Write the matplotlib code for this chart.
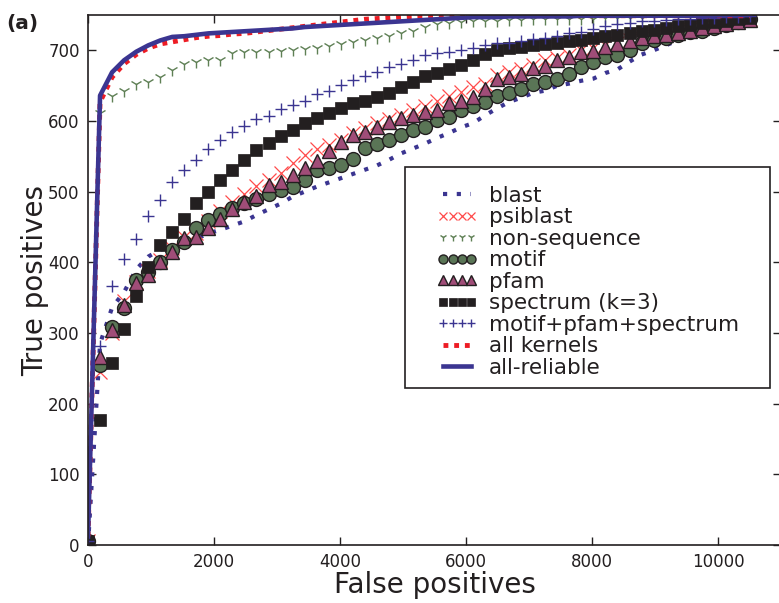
###############
### IMPORTS ###
###############

import matplotlib
matplotlib.use('Agg')
import matplotlib.pyplot as plt
from matplotlib.patches import Rectangle

############
### DATA ###
############

# false positives (sampling grid shared by all curves)
fp = [0, 191, 382, 573, 764, 955, 1146, 1337, 1528, 1719,
      1910, 2101, 2292, 2483, 2674, 2865, 3056, 3247, 3438, 3629,
      3820, 4011, 4202, 4393, 4584, 4775, 4966, 5157, 5348, 5539,
      5730, 5921, 6112, 6303, 6494, 6685, 6876, 7067, 7258, 7449,
      7640, 7831, 8022, 8213, 8404, 8595, 8786, 8977, 9168, 9359,
      9550, 9741, 9932, 10123, 10314, 10505]

blast = [0, 285, 336, 358, 390, 408, 418, 421, 426, 433,
         441, 446, 452, 458, 467, 475, 483, 493, 500, 507,
         513, 519, 525, 531, 537, 545, 554, 561, 568, 576,
         583, 591, 597, 608, 618, 627, 633, 640, 643, 650,
         653, 657, 660, 668, 673, 684, 694, 700, 707, 714,
         721, 728, 734, 740, 745, 750]

psiblast = [5, 245, 300, 345, 372, 388, 404, 420, 436, 442,
            458, 472, 485, 497, 508, 517, 526, 540, 552, 560,
            566, 573, 583, 590, 597, 603, 609, 615, 621, 629,
            636, 641, 648, 653, 665, 669, 674, 679, 686, 689,
            693, 700, 703, 707, 711, 714, 718, 721, 724, 727,
            730, 733, 736, 739, 742, 745]

non_sequence = [5, 611, 636, 643, 653, 655, 662, 672, 681, 683,
                686, 686, 696, 697, 697, 698, 699, 700, 702, 704,
                706, 709, 712, 715, 718, 721, 725, 728, 733, 737,
                739, 740, 741, 742, 742, 743, 743, 744, 744, 744,
                745, 745, 745, 746, 746, 746, 746, 747, 747, 747,
                747, 747, 748, 748, 748, 748]

motif = [5, 255, 308, 335, 375, 386, 400, 417, 429, 448,
         460, 469, 477, 484, 490, 497, 502, 506, 517, 530,
         534, 538, 546, 562, 567, 573, 580, 587, 591, 601,
         605, 615, 621, 627, 636, 639, 645, 653, 655, 660,
         667, 676, 684, 690, 694, 701, 711, 714, 718, 722,
         726, 728, 732, 736, 740, 744]

pfam = [5, 266, 304, 339, 371, 382, 400, 414, 434, 436,
        449, 462, 476, 485, 494, 509, 514, 523, 534, 544,
        557, 570, 580, 584, 591, 598, 604, 608, 613, 616,
        625, 629, 634, 645, 659, 662, 667, 675, 678, 686,
        690, 697, 699, 705, 709, 713, 717, 720, 722, 725,
        728, 731, 734, 737, 740, 743]

spectrum = [5, 177, 257, 306, 352, 394, 424, 443, 462, 484,
            499, 517, 530, 545, 559, 569, 579, 587, 597, 604,
            612, 618, 625, 629, 634, 639, 648, 655, 663, 668,
            674, 679, 686, 695, 700, 703, 705, 707, 709, 711,
            713, 715, 717, 720, 722, 724, 727, 729, 731, 734,
            736, 738, 740, 742, 744, 746]

combined = [5, 282, 366, 405, 433, 466, 488, 513, 530, 545,
            560, 573, 584, 593, 603, 607, 617, 622, 629, 638,
            643, 651, 658, 664, 670, 676, 681, 687, 693, 696,
            697, 700, 704, 707, 710, 711, 713, 716, 717, 721,
            724, 726, 730, 734, 737, 739, 741, 742, 743, 744,
            745, 746, 746, 747, 747, 748]

all_kernels = [12, 627, 662, 681, 694, 703, 709, 712, 715, 718,
               720, 721, 723, 724, 726, 728, 730, 732, 734, 736,
               738, 740, 742, 744, 745, 746, 747, 748, 748, 748,
               749, 749, 749, 749, 749, 749, 749, 749, 749, 749,
               749, 749, 749, 749, 749, 749, 749, 749, 749, 749,
               749, 749, 749, 749, 749, 749]

all_reliable = [12, 636, 669, 686, 698, 707, 714, 719, 720, 722,
                724, 725, 726, 727, 728, 729, 730, 731, 733, 734,
                735, 736, 737, 738, 739, 740, 741, 742, 743, 744,
                745, 746, 747, 747, 747, 748, 748, 748, 748, 748,
                748, 749, 749, 749, 749, 749, 749, 749, 749, 749,
                749, 749, 749, 750, 750, 750]

#################
### VARIABLES ###
#################

navy = '#3b3591'
red = '#ed1c24'
light_red = '#ff4a4a'
green = '#5a7556'
y_green = '#5f8055'
pink = '#a04d78'
ink = '#231f20'

####################
### BUILD FIGURE ###
####################

plt.rcParams['font.family'] = 'DejaVu Sans'
plt.rcParams['text.color'] = ink

fig = plt.figure(figsize=(7.79, 6.03), dpi=100)
ax = fig.add_axes([0.113, 0.0962, 0.8896, 0.8789])

ax.plot(fp, blast, color=navy, lw=3.0, dashes=(1, 2.3),
        dash_capstyle='butt', label='blast')
ax.plot(fp, psiblast, ls='None', marker='x', ms=9.5, mew=0.9,
        color=light_red, label='psiblast')
ax.plot(fp, non_sequence, ls='None', marker='1', ms=8.5, mew=1.0,
        color=y_green, label='non-sequence')
ax.plot(fp, motif, ls='None', marker='o', ms=10, mew=1.0,
        mfc=green, mec=ink, label='motif')
ax.plot(fp, pfam, ls='None', marker='^', ms=10.5, mew=1.0,
        mfc=pink, mec=ink, label='pfam')
ax.plot(fp, spectrum, ls='None', marker='s', ms=9, mew=0.5,
        mfc=ink, mec=ink, label='spectrum (k=3)')
ax.plot(fp, combined, ls='None', marker='+', ms=9, mew=1.0,
        color=navy, label='motif+pfam+spectrum')
ax.plot(fp, all_kernels, color=red, lw=3.5, dashes=(1, 1.2),
        dash_capstyle='butt', label='all kernels')
ax.plot(fp, all_reliable, color=navy, lw=3.3, label='all-reliable')

ax.set_xlim(0, 11000)
ax.set_ylim(0, 750)
ax.set_xticks([0, 2000, 4000, 6000, 8000, 10000])
ax.set_yticks([0, 100, 200, 300, 400, 500, 600, 700])
ax.tick_params(direction='in', top=True, right=True, length=6, width=1,
               labelsize=12, labelcolor=ink, color=ink, pad=6)
for sp in ax.spines.values():
    sp.set_color(ink)
    sp.set_linewidth(1.2)

ax.set_xlabel('False positives', fontsize=20, color=ink, labelpad=0)
ax.set_ylabel('True positives', fontsize=20, color=ink, labelpad=-1)

# legend frame drawn by hand so the padding matches
ax.add_patch(Rectangle((0.457, 0.296), 0.527, 0.417, transform=ax.transAxes,
                       facecolor='white', edgecolor=ink, lw=1.2, zorder=4))
leg = ax.legend(loc='upper left', bbox_to_anchor=(0.5036, 0.678),
                frameon=False, fontsize=15.5, numpoints=4, markerscale=0.65,
                handlelength=1.9, handletextpad=0.5, labelspacing=0.07,
                borderpad=0, borderaxespad=0)
leg.set_zorder(5)
for t in leg.get_texts():
    t.set_color(ink)

fig.text(0.008, 0.977, '(a)', fontsize=14.5, fontweight='bold',
         color=ink, va='top', ha='left')

fig.savefig('out.png', dpi=100)
